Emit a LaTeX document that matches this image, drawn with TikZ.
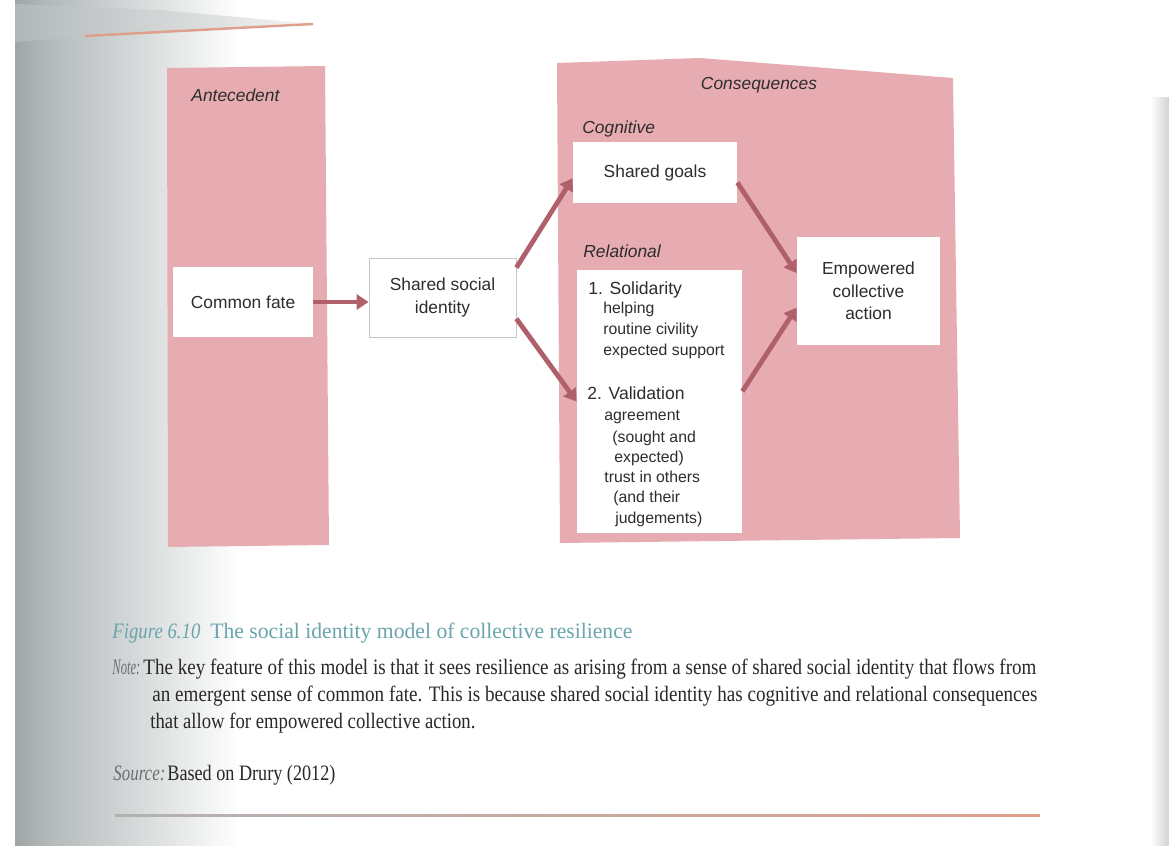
\documentclass[tikz,border=0pt]{standalone}
\usepackage{fontspec}
\usepackage{graphicx}
\setmainfont{Liberation Serif}
\newfontfamily\sansf{Liberation Sans}
\usetikzlibrary{arrows.meta}
\definecolor{panelpink}{RGB}{231,172,178}
\definecolor{arrowrose}{RGB}{176,96,106}
\definecolor{inkgray}{RGB}{45,45,45}
\definecolor{capteal}{RGB}{105,165,172}
\definecolor{notegray}{RGB}{40,40,40}
\definecolor{labelgray}{RGB}{105,110,110}
\definecolor{shadowgray}{RGB}{178,184,184}
\definecolor{darkband}{RGB}{160,166,166}
\definecolor{rulecol}{RGB}{222,160,140}
\begin{document}
\begin{tikzpicture}[x=0.5pt,y=-0.5pt,
  panel/.style={fill=panelpink, draw=none},
  wbox/.style={fill=white, inner sep=0pt, text=inkgray, font=\sansf\fontsize{8.7}{11.2}\selectfont, align=center},
  head/.style={text=inkgray, font=\sansf\itshape\fontsize{8.7}{10}\selectfont, inner sep=0pt},
  mainline/.style={anchor=base west, inner sep=0pt, text=inkgray, font=\sansf\fontsize{8.8}{10}\selectfont},
  subline/.style={anchor=base west, inner sep=0pt, text=inkgray, font=\sansf\fontsize{7.9}{10}\selectfont},
  flow/.style={draw=arrowrose, line width=2.4pt, -{Triangle[length=6pt,width=7.5pt]}},
  capline/.style={anchor=base west, inner sep=0pt, text=notegray, font=\fontsize{11}{13}\selectfont},
  capital/.style={anchor=base west, inner sep=0pt, text=labelgray, font=\itshape\fontsize{11}{13}\selectfont},
]
\useasboundingbox (0,0) rectangle (1169,846);
% page and photo shading
\fill[white] (0,0) rectangle (1169,846);
\shade[left color=shadowgray, right color=white] (45,0) rectangle (240,846);
\shade[left color=darkband, right color=shadowgray] (15,0) rectangle (45,846);
\shade[left color=shadowgray, right color=gray!8] (15,4) -- (160,10) -- (315,24) -- (80,37) -- (15,42) -- cycle;
\shade[left color=white, right color=gray!35] (1150,97) rectangle (1169,846);
\draw[rulecol, line width=1.2pt] (85,36) -- (313,24);
\shade[left color=gray!60, right color=rulecol] (115,814) rectangle (1040,816.5);

% panels
\fill[panel] (167,68) -- (325,66) -- (329,545) -- (168,547) -- cycle;
\fill[panel] (557,63) -- (700,58) -- (953,78) -- (960,538) -- (560,543) -- cycle;

% boxes
\node[wbox, minimum width=70pt, minimum height=35pt] (cf) at (243,302) {Common fate};
\node[wbox, draw=gray!45, line width=0.4pt, minimum width=73.5pt, minimum height=39.5pt] (ssi) at (442.5,297.5) {Shared social\\identity};
\node[wbox, minimum width=82pt, minimum height=30.5pt] (sg) at (655,172.5) {Shared goals};
\node[wbox, minimum width=82.5pt, minimum height=131.5pt] (rel) at (659.5,401.5) {};
\node[wbox, minimum width=71.5pt, minimum height=54pt] (emp) at (868.5,291) {Empowered\\collective\\action};

% headings
\node[head, anchor=west] (antec) at (191,95) {Antecedent};
\node[head] (conseq) at (759,85) {Consequences};
\node[head, anchor=west] (cogn) at (582,129) {Cognitive};
\node[head, anchor=west] (relat) at (583,251) {Relational};

% relational contents
\node[mainline] (r1) at (588,294) {1. Solidarity};
\node[subline] (r2) at (603,313) {helping};
\node[subline] (r3) at (603,334) {routine civility};
\node[subline] (r4) at (603,355) {expected support};
\node[mainline] (r5) at (587,399) {2. Validation};
\node[subline] (r6) at (604,420) {agreement};
\node[subline] (r7) at (612,442) {(sought and};
\node[subline] (r8) at (614,462) {expected)};
\node[subline] (r9) at (604,482) {trust in others};
\node[subline] (r10) at (613,502) {(and their};
\node[subline] (r11) at (615,523) {judgements)};

% arrows
\draw[flow] (cf.east) -- (cf.east -| ssi.west);
\draw[flow] (ssi.22) -- (sg.184);
\draw[flow] (ssi.-16) -- (rel.west);
\draw[flow] (sg.-7) -- (emp.166);
\draw[flow] (rel.7) -- (emp.193);

% caption
\node[capline, text=capteal, font=\itshape\fontsize{11}{13}\selectfont] (fignum) at (112,638) {\resizebox{44pt}{\height}{Figure 6.10}};
\node[capline, text=capteal] (figtitle) at (210,638) {\resizebox{211pt}{\height}{The social identity model of collective resilience}};
\node[capital] (notelbl) at (112,674) {\resizebox{14pt}{\height}{Note:}};
\node[capline] (n1) at (143,674) {\resizebox{446.5pt}{\height}{The key feature of this model is that it sees resilience as arising from a sense of shared social identity that flows from}};
\node[capline] (n2) at (152,701) {\resizebox{442.5pt}{\height}{an emergent sense of common fate. This is because shared social identity has cognitive and relational consequences}};
\node[capline] (n3) at (150,728) {\resizebox{162.5pt}{\height}{that allow for empowered collective action.}};
\node[capital] (srclbl) at (113,780) {\resizebox{26pt}{\height}{Source:}};
\node[capline] (src) at (167,780) {\resizebox{84pt}{\height}{Based on Drury (2012)}};
\end{tikzpicture}
\end{document}
